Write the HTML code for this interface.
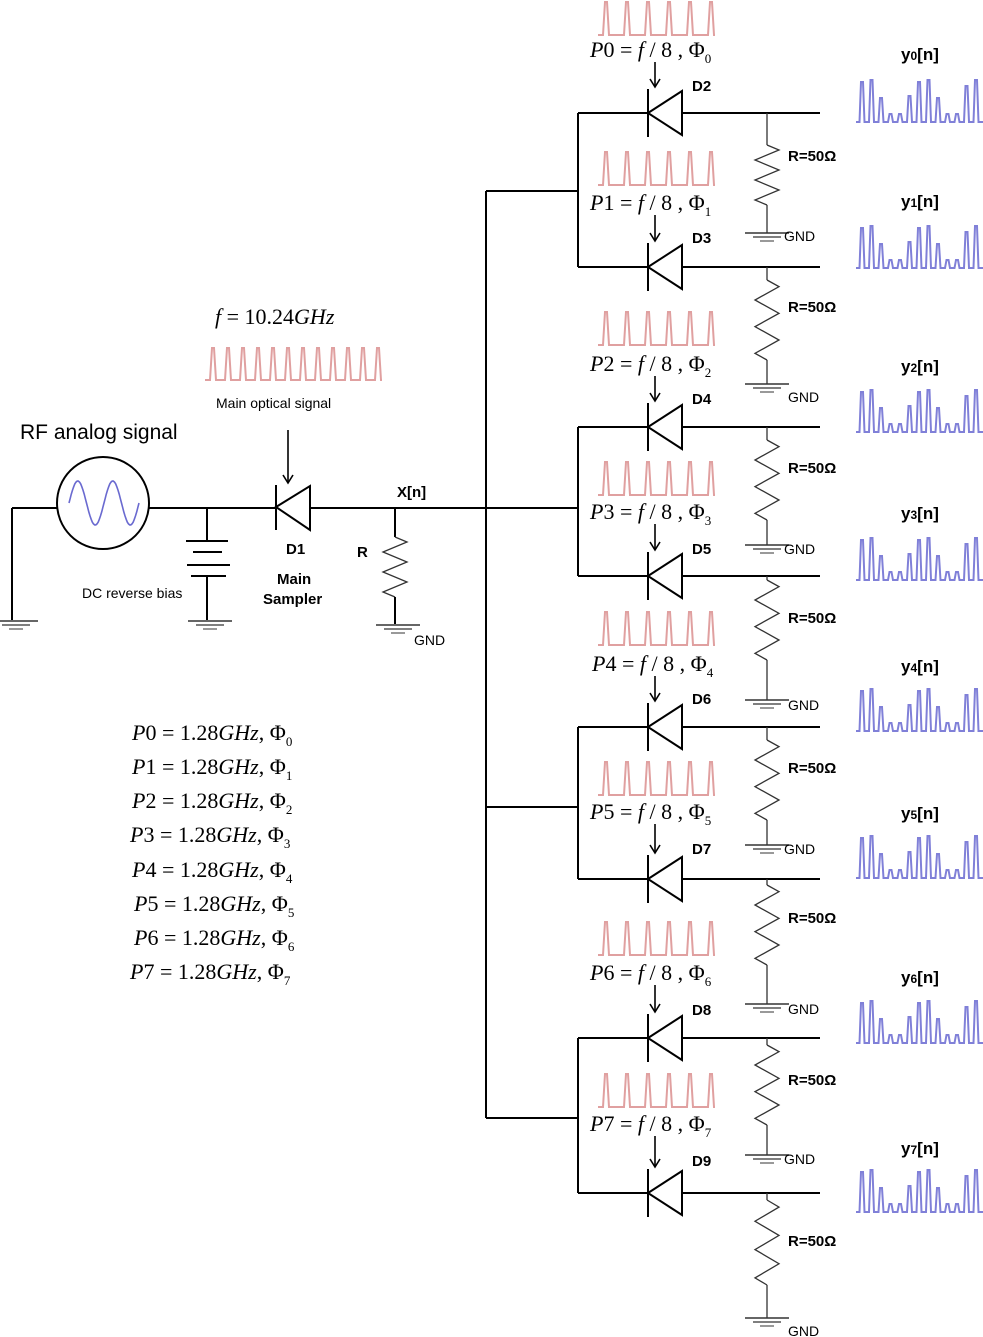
<!DOCTYPE html>
<html><head><meta charset="utf-8"><style>
body{margin:0;background:#fff;}
svg{display:block;}
.s{font-family:"Liberation Sans",sans-serif;}
.b{font-family:"Liberation Sans",sans-serif;font-weight:bold;font-size:15px;}
.m{font-family:"Liberation Serif",serif;font-size:22px;}
.i{font-style:italic;}
.g{font-family:"Liberation Sans",sans-serif;font-size:14px;}
</style></head><body>
<svg id="sv" width="983" height="1337" viewBox="0 0 983 1337" xmlns="http://www.w3.org/2000/svg">
<g id="shapes" fill="none" stroke="#000" stroke-width="2"></g>
<text class="s" x="20" y="439" font-size="21">RF analog signal</text>
<text class="m" x="215" y="324" font-size="25"><tspan class="i">f</tspan> = 10.24<tspan class="i">GHz</tspan></text>
<text class="s" x="216" y="408" font-size="14">Main optical signal</text>
<text class="s" x="82" y="598" font-size="14">DC reverse bias</text>
<text class="b" x="286" y="554">D1</text>
<text class="b" x="277" y="584">Main</text>
<text class="b" x="263" y="604">Sampler</text>
<text class="b" x="397" y="497" font-size="16">X[n]</text>
<text class="b" x="357" y="557">R</text>
<text class="g" x="414" y="645">GND</text>
<g class="m">
<text x="132" y="740"><tspan class="i">P</tspan>0 = 1.28<tspan class="i">GHz</tspan>, Φ<tspan font-size="13" dy="6">0</tspan></text>
<text x="132" y="774"><tspan class="i">P</tspan>1 = 1.28<tspan class="i">GHz</tspan>, Φ<tspan font-size="13" dy="6">1</tspan></text>
<text x="132" y="808"><tspan class="i">P</tspan>2 = 1.28<tspan class="i">GHz</tspan>, Φ<tspan font-size="13" dy="6">2</tspan></text>
<text x="130" y="842"><tspan class="i">P</tspan>3 = 1.28<tspan class="i">GHz</tspan>, Φ<tspan font-size="13" dy="6">3</tspan></text>
<text x="132" y="877"><tspan class="i">P</tspan>4 = 1.28<tspan class="i">GHz</tspan>, Φ<tspan font-size="13" dy="6">4</tspan></text>
<text x="134" y="911"><tspan class="i">P</tspan>5 = 1.28<tspan class="i">GHz</tspan>, Φ<tspan font-size="13" dy="6">5</tspan></text>
<text x="134" y="945"><tspan class="i">P</tspan>6 = 1.28<tspan class="i">GHz</tspan>, Φ<tspan font-size="13" dy="6">6</tspan></text>
<text x="130" y="979"><tspan class="i">P</tspan>7 = 1.28<tspan class="i">GHz</tspan>, Φ<tspan font-size="13" dy="6">7</tspan></text>
</g>
<g class="m">
<text x="590" y="57"><tspan class="i">P</tspan>0 = <tspan class="i">f</tspan> / 8  , Φ<tspan font-size="13" dy="6">0</tspan></text>
<text x="590" y="210"><tspan class="i">P</tspan>1 = <tspan class="i">f</tspan> / 8  , Φ<tspan font-size="13" dy="6">1</tspan></text>
<text x="590" y="371"><tspan class="i">P</tspan>2 = <tspan class="i">f</tspan> / 8  , Φ<tspan font-size="13" dy="6">2</tspan></text>
<text x="590" y="519"><tspan class="i">P</tspan>3 = <tspan class="i">f</tspan> / 8  , Φ<tspan font-size="13" dy="6">3</tspan></text>
<text x="592" y="671"><tspan class="i">P</tspan>4 = <tspan class="i">f</tspan> / 8  , Φ<tspan font-size="13" dy="6">4</tspan></text>
<text x="590" y="819"><tspan class="i">P</tspan>5 = <tspan class="i">f</tspan> / 8  , Φ<tspan font-size="13" dy="6">5</tspan></text>
<text x="590" y="980"><tspan class="i">P</tspan>6 = <tspan class="i">f</tspan> / 8  , Φ<tspan font-size="13" dy="6">6</tspan></text>
<text x="590" y="1131"><tspan class="i">P</tspan>7 = <tspan class="i">f</tspan> / 8  , Φ<tspan font-size="13" dy="6">7</tspan></text>
</g>
<g class="b">
<text x="692" y="91">D2</text><text x="692" y="243">D3</text>
<text x="692" y="404">D4</text><text x="692" y="554">D5</text>
<text x="692" y="704">D6</text><text x="692" y="854">D7</text>
<text x="692" y="1015">D8</text><text x="692" y="1166">D9</text>
<text x="788" y="161">R=50Ω</text><text x="788" y="312">R=50Ω</text>
<text x="788" y="473">R=50Ω</text><text x="788" y="623">R=50Ω</text>
<text x="788" y="773">R=50Ω</text><text x="788" y="923">R=50Ω</text>
<text x="788" y="1085">R=50Ω</text><text x="788" y="1246">R=50Ω</text>
<g font-size="17">
<text x="901" y="60">y<tspan font-size="12">0</tspan>[n]</text>
<text x="901" y="207">y<tspan font-size="12">1</tspan>[n]</text>
<text x="901" y="372">y<tspan font-size="12">2</tspan>[n]</text>
<text x="901" y="519">y<tspan font-size="12">3</tspan>[n]</text>
<text x="901" y="672">y<tspan font-size="12">4</tspan>[n]</text>
<text x="901" y="819">y<tspan font-size="12">5</tspan>[n]</text>
<text x="901" y="983">y<tspan font-size="12">6</tspan>[n]</text>
<text x="901" y="1154">y<tspan font-size="12">7</tspan>[n]</text>
</g></g>
<g class="g">
<text x="784" y="241">GND</text><text x="788" y="402">GND</text>
<text x="784" y="554">GND</text><text x="788" y="710">GND</text>
<text x="784" y="854">GND</text><text x="788" y="1014">GND</text>
<text x="784" y="1164">GND</text><text x="788" y="1336">GND</text>
</g>
</svg>
<script>
var g=document.getElementById('shapes'),NS='http://www.w3.org/2000/svg';
function el(t,a){var e=document.createElementNS(NS,t);for(var k in a)e.setAttribute(k,a[k]);g.appendChild(e);return e;}
function L(x1,y1,x2,y2,w,c){el('line',{x1:x1,y1:y1,x2:x2,y2:y2,'stroke-width':w||2,stroke:c||'#000'});}
function gnd(x,y){L(x-22,y,x+22,y,1.5,'#333');L(x-14,y+4,x+14,y+4,1.5,'#555');L(x-7,y+8,x+7,y+8,1.5,'#777');}
function res(x,y1,y2){var n=6,h=(y2-y1)/n,d='M'+x+' '+y1;for(var i=0;i<n;i++){d+=' L'+(x+(i%2?-12:12))+' '+(y1+h*(i+0.5));}d+=' L'+x+' '+y2;el('path',{d:d,'stroke-width':1.3,stroke:'#333'});}
function red(x0,n,sp,b,t){var d='M'+(x0-8)+' '+b;for(var i=0;i<n;i++){var x=x0+i*sp;d+=' L'+(x-3)+' '+b+' L'+(x-1)+' '+t+' L'+(x+1)+' '+t+' L'+(x+3)+' '+b;}d+=' L'+(x0+(n-1)*sp+4)+' '+b;el('path',{d:d,stroke:'#e0a0a0','stroke-width':2});}
function blue(x0,b){var h=[40,42,24,8,8,26,40,42,24,8,8,36,42],d='M'+x0+' '+b;for(var i=0;i<13;i++){var x=x0+6+i*9.5;d+=' L'+(x-2.5)+' '+b+' L'+(x-1)+' '+(b-h[i])+' L'+(x+1)+' '+(b-h[i])+' L'+(x+2.5)+' '+b;}d+=' L'+(x0+128)+' '+b;el('path',{d:d,stroke:'#8080d8','stroke-width':2});}
function arrow(x,y1,y2){L(x,y1,x,y2,1.6);el('path',{d:'M'+(x-5)+' '+(y2-8)+' L'+x+' '+y2+' L'+(x+5)+' '+(y2-8),'stroke-width':1.6});}
L(12,508,58,508);L(12,508,12,620);gnd(16,621);
el('circle',{cx:103,cy:503,r:46,'stroke-width':2});
var d='';for(var i=0;i<=60;i++){var x=69+i*70/60,y=503-22*Math.sin((i/60)*4*Math.PI);d+=(i?' L':'M')+x.toFixed(1)+' '+y.toFixed(1);}
el('path',{d:d,stroke:'#6a6ad0','stroke-width':1.6});
L(149,508,276,508);L(207,508,207,541);L(186,541,228,541);L(193,552,222,552);L(187,565,230,565);L(191,576,226,576);L(207,576,207,620);gnd(210,621);
L(276,485,276,530);el('polygon',{points:'276,507 310,486 310,530'});L(310,508,486,508);
arrow(288,430,483);red(213,12,15,380,348);
L(395,508,395,537);res(395,537,597);L(395,597,395,624);gnd(398,625);
L(486,191,486,1118);
[[191,113,267],[508,427,576],[807,727,879],[1118,1038,1193]].forEach(function(p){L(486,p[0],578,p[0]);L(578,p[1],578,p[2]);});
var ys=[113,267,427,576,727,879,1038,1193],gy=[233,384,545,700,845,1004,1155,1318],rb=[[145,205],[280,360],[440,520],[580,660],[740,820],[885,965],[1045,1125],[1200,1285]],
 pb=[35,185,345,495,645,795,955,1107],ob=[122,268,432,580,731,878,1043,1212],lab=[50,203,364,512,664,812,973,1124];
ys.forEach(function(Y,i){
 L(578,Y,648,Y);L(648,Y-24,648,Y+24);el('polygon',{points:'648,'+Y+' 682,'+(Y-22)+' 682,'+(Y+22)});L(682,Y,820,Y);
 L(767,Y,767,rb[i][0],1.3,'#333');res(767,rb[i][0],rb[i][1]);L(767,rb[i][1],767,gy[i],1.3,'#333');gnd(767,gy[i]);
 red(606,6,21,pb[i],pb[i]-33);arrow(655,lab[i]+12,Y-26);blue(856,ob[i]);
});
</script>
</body></html>
